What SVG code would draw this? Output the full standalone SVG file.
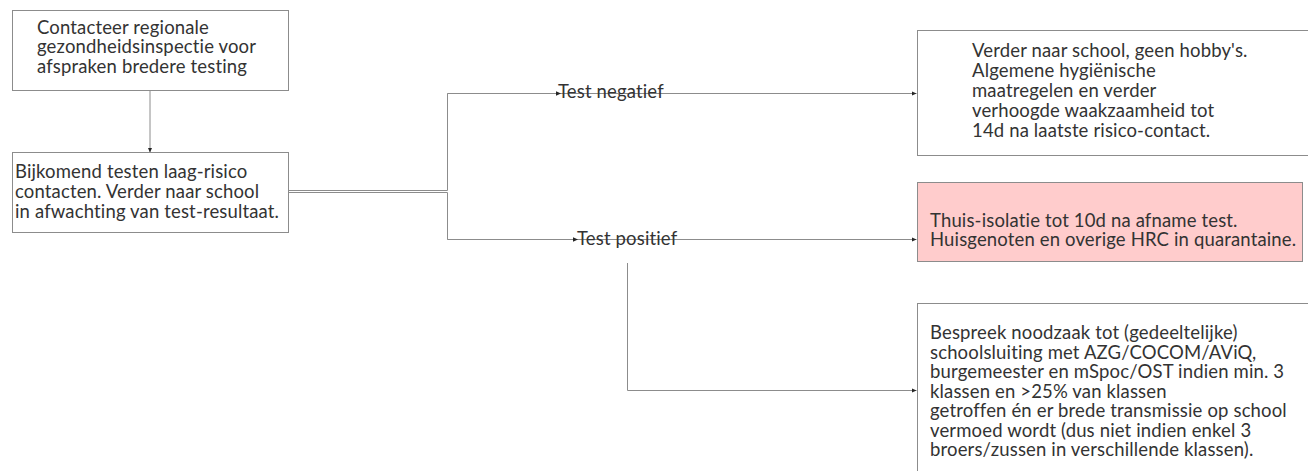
<svg xmlns="http://www.w3.org/2000/svg" width="1308" height="471" viewBox="0 0 1308 471">
<defs>
<marker id="ah" markerUnits="userSpaceOnUse" markerWidth="6" markerHeight="6" refX="5" refY="3" orient="auto">
<path d="M0,0.8 L5,3 L0,5.2 Z" fill="#262626"/>
</marker>
<style>
.box{fill:#ffffff;stroke:#8c8c8c;stroke-width:1}
.red{fill:#ffcccc;stroke:#8c8c8c;stroke-width:1}
.t{font-family:Lato,"Liberation Sans",sans-serif;font-weight:400;font-size:18.5px;letter-spacing:0.15px;fill:#333333}
.c{fill:none;stroke:#8c8c8c;stroke-width:1}
.ca{fill:none;stroke:#8c8c8c;stroke-width:1;marker-end:url(#ah)}
</style>
</defs>
<rect width="1308" height="471" fill="#ffffff"/>
<g id="connectors">
<path class="ca" d="M150,90.5 V152.5"/>
<path class="c" d="M289,190.5 H447.5 V93.5 H456"/>
<path class="ca" d="M447.5,93.5 H561"/>
<path class="ca" d="M561,93.5 H916.5"/>
<path class="c" d="M289,192.5 H447.5 V239.5 H456"/>
<path class="ca" d="M447.5,239.5 H578"/>
<path class="ca" d="M578,239.5 H916.5"/>
<path class="ca" d="M627.5,263 V390.5 H916.5"/>
</g>
<g id="n1">
<rect class="box" x="12.5" y="10.5" width="276" height="80"/>
<text class="t"><tspan x="37" y="33.5">Contacteer regionale</tspan><tspan x="37" y="53">gezondheidsinspectie voor</tspan><tspan x="37" y="72.5">afspraken bredere testing</tspan></text>
</g>
<g id="n2">
<rect class="box" x="12.5" y="152.5" width="276" height="80"/>
<text class="t"><tspan x="15" y="178">Bijkomend testen laag-risico</tspan><tspan x="15" y="198">contacten. Verder naar school</tspan><tspan x="15" y="218">in afwachting van test-resultaat.</tspan></text>
</g>
<g id="lbl-neg">
<text class="t" x="558" y="98">Test negatief</text>
</g>
<g id="lbl-pos">
<text class="t" x="577" y="245">Test positief</text>
</g>
<g id="n3">
<rect class="box" x="917.5" y="30.5" width="400" height="125"/>
<text class="t"><tspan x="972" y="57">Verder naar school, geen hobby's.</tspan><tspan x="972" y="77">Algemene hygiënische</tspan><tspan x="972" y="97">maatregelen en verder</tspan><tspan x="972" y="117">verhoogde waakzaamheid tot</tspan><tspan x="972" y="137">14d na laatste risico-contact.</tspan></text>
</g>
<g id="n4">
<rect class="red" x="917.5" y="182.5" width="385" height="79"/>
<text class="t"><tspan x="930" y="226.5">Thuis-isolatie tot 10d na afname test.</tspan><tspan x="930" y="246">Huisgenoten en overige HRC in quarantaine.</tspan></text>
</g>
<g id="n5">
<rect class="box" x="917.5" y="303.5" width="400" height="200"/>
<text class="t"><tspan x="930" y="339">Bespreek noodzaak tot (gedeeltelijke)</tspan><tspan x="930" y="358.5">schoolsluiting met AZG/COCOM/AViQ,</tspan><tspan x="930" y="378">burgemeester en mSpoc/OST indien min. 3</tspan><tspan x="930" y="397.5">klassen en &gt;25% van klassen</tspan><tspan x="930" y="417">getroffen én er brede transmissie op school</tspan><tspan x="930" y="436.5">vermoed wordt (dus niet indien enkel 3</tspan><tspan x="930" y="456">broers/zussen in verschillende klassen).</tspan></text>
</g>
</svg>
